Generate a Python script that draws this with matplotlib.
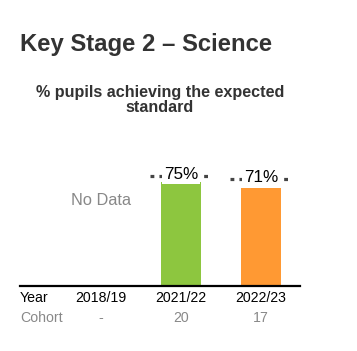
import matplotlib
matplotlib.use("Agg")
import matplotlib.pyplot as plt

plt.rcParams['font.family'] = ['Liberation Sans', 'DejaVu Sans']

years = ['2018/19', '2021/22', '2022/23']
values = [None, 75, 71]
national = [None, 79, 77]
cohort = ['-', '20', '17']
colors = [None, '#8dc63f', '#ff9933']

W, H = 357, 351
fig = plt.figure(figsize=(W / 100, H / 100), dpi=100)

# axes placed in pixel terms: baseline at y=286, x from 20 to 300
ax = fig.add_axes([20 / W, 1 - 286 / H, 280 / W, 138.7 / H])
ax.set_xlim(-1.0125, 2.4875)
ax.set_ylim(0, 100)
for s in ['top', 'right', 'left']:
    ax.spines[s].set_visible(False)
ax.spines['bottom'].set_linewidth(1.6)
ax.spines['bottom'].set_color('black')
ax.set_xticks([])
ax.set_yticks([])
ax.patch.set_alpha(0)

for i, v in enumerate(values):
    if v is None:
        ax.text(i, 62, 'No Data', ha='center', va='center', fontsize=11.8, color='#888888')
        continue
    ax.bar(i, v, width=0.5, color=colors[i])
    n = national[i]
    ax.plot([i - 0.39, i + 0.39], [n, n], color='#444444', lw=2.3,
            dashes=(1.2, 1.6), solid_capstyle='butt', dash_capstyle='butt')
    ax.text(i, n + 1.5, f'{v}%', ha='center', va='center', fontsize=12.3, color='black',
            bbox=dict(facecolor='white', edgecolor='none', pad=1.2))

fig.text(20 / W, 1 - 45 / H, 'Key Stage 2 – Science', fontsize=17.2, fontweight='bold',
         color='#333333', ha='left', va='center')
fig.text(160 / W, 1 - 100 / H, '% pupils achieving the expected\nstandard', fontsize=11.6,
         fontweight='bold', color='#333333', ha='center', va='center', linespacing=0.98)

xpos = [101, 181, 261]
fig.text(20 / W, 1 - 298 / H, 'Year', fontsize=10.2, color='black', ha='left', va='center')
fig.text(20 / W, 1 - 318 / H, 'Cohort', fontsize=10.2, color='#888888', ha='left', va='center')
for x, y, c in zip(xpos, years, cohort):
    fig.text(x / W, 1 - 298 / H, y, fontsize=10.2, color='black', ha='center', va='center')
    fig.text(x / W, 1 - 318 / H, c, fontsize=10.2, color='#888888', ha='center', va='center')

fig.savefig('out.png', dpi=100)
